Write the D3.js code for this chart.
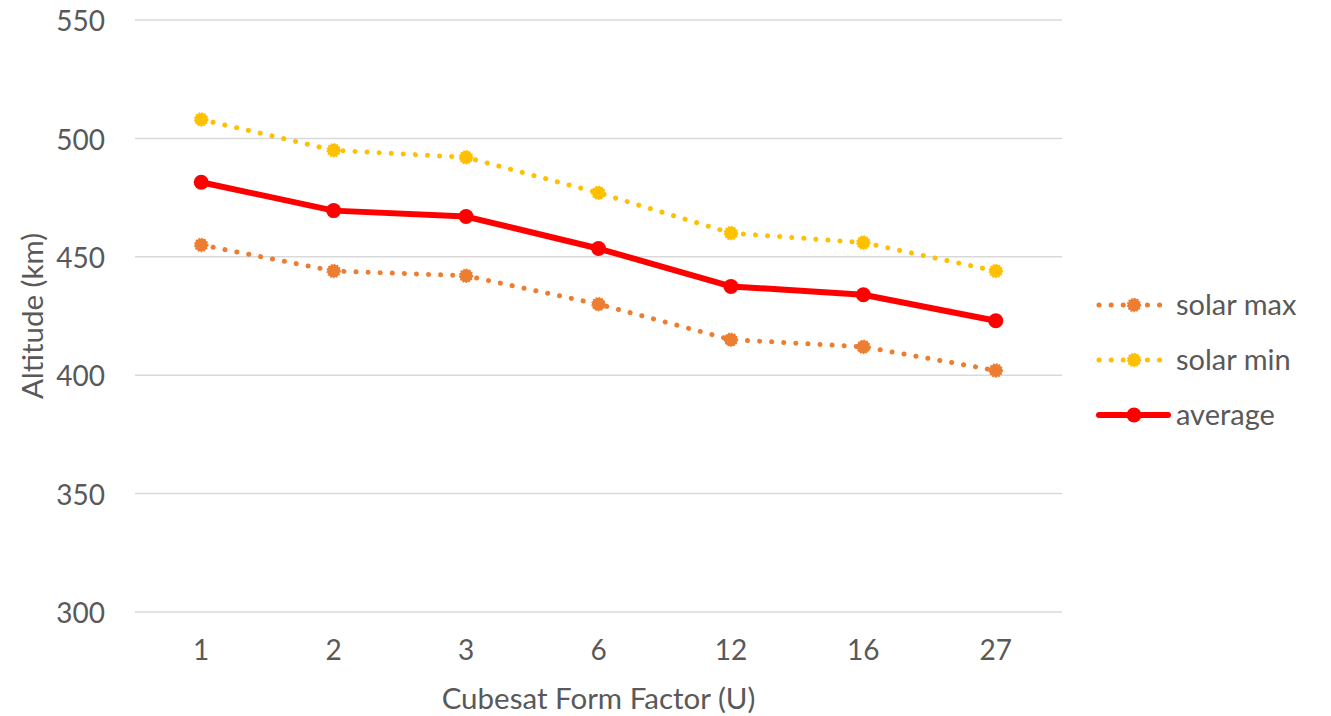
<!DOCTYPE html>
<html>
<head>
<meta charset="utf-8">
<script src="https://cdn.jsdelivr.net/npm/d3@7"></script>
<style>
  html, body { margin: 0; padding: 0; background: #fff; }
  svg { display: block; font-family: Lato, "Open Sans", sans-serif; }
</style>
</head>
<body>
<svg id="chart" width="1331" height="716"></svg>
<script>
// Cubesat form factors and the altitudes (km) for each solar condition
const formFactors = ["1", "2", "3", "6", "12", "16", "27"];
const solarMax = [455, 444, 442, 430, 415, 412, 402];
const solarMin = [508, 495, 492, 477, 460, 456, 444];
const average  = [481.5, 469.5, 467, 453.5, 437.5, 434, 423];
const yTicks = [300, 350, 400, 450, 500, 550];

const series = [
  { name: "solar max", values: solarMax, color: "#ED7D31", dotted: true },
  { name: "solar min", values: solarMin, color: "#FFC000", dotted: true },
  { name: "average",   values: average,  color: "#FF0000", dotted: false }
];

const svg = d3.select("#chart");
const plot = { left: 135, right: 1062, top: 20, bottom: 612 };

const x = d3.scaleBand().domain(formFactors).range([plot.left, plot.right]);
const y = d3.scaleLinear().domain([300, 550]).range([plot.bottom, plot.top]);
const cx = d => x(d) + x.bandwidth() / 2;

// horizontal gridlines
svg.append("g")
  .selectAll("line")
  .data(yTicks)
  .join("line")
  .attr("x1", plot.left).attr("x2", plot.right)
  .attr("y1", d => y(d)).attr("y2", d => y(d))
  .attr("stroke", "#d9d9d9").attr("stroke-width", 1.5);

// y tick labels
const yAxis = svg.append("g")
  .attr("transform", `translate(${plot.left},0)`)
  .call(d3.axisLeft(y).tickValues(yTicks).tickSize(0).tickPadding(30));
yAxis.select(".domain").remove();
yAxis.selectAll("text").attr("font-size", 28).attr("fill", "#595959")
  .attr("dy", "0.38em")
  .attr("font-family", "Lato, 'Open Sans', sans-serif");

// x tick labels
const xAxis = svg.append("g")
  .attr("transform", `translate(0,${plot.bottom})`)
  .call(d3.axisBottom(x).tickSize(0).tickPadding(28));
xAxis.select(".domain").remove();
xAxis.selectAll("text").attr("font-size", 28).attr("fill", "#595959")
  .attr("font-family", "Lato, 'Open Sans', sans-serif");

// axis titles
svg.append("text")
  .attr("x", (plot.left + plot.right) / 2 + 0).attr("y", 709)
  .attr("text-anchor", "middle")
  .attr("font-size", 29.5).attr("fill", "#595959")
  .text("Cubesat Form Factor (U)");

svg.append("text")
  .attr("transform", `translate(43,${(plot.top + plot.bottom) / 2}) rotate(-90)`)
  .attr("text-anchor", "middle")
  .attr("font-size", 29.5).attr("fill", "#595959")
  .text("Altitude (km)");

const line = d3.line().x((d, i) => cx(formFactors[i])).y(d => y(d));

function styleLine(sel, s) {
  sel.attr("fill", "none").attr("stroke", s.color)
    .attr("stroke-linecap", "round").attr("stroke-linejoin", "round");
  if (s.dotted) sel.attr("stroke-width", 5).attr("stroke-dasharray", "0.1 12");
  else sel.attr("stroke-width", 6);
}

series.forEach(s => {
  const g = svg.append("g");
  g.append("path").datum(s.values).attr("d", line).call(styleLine, s);
  g.selectAll("circle")
    .data(s.values)
    .join("circle")
    .attr("cx", (d, i) => cx(formFactors[i]))
    .attr("cy", d => y(d))
    .attr("r", s.dotted ? 6.5 : 7.5)
    .attr("fill", s.color)
    .attr("stroke", s.color)
    .attr("stroke-width", s.dotted ? 1.5 : 0)
    .attr("stroke-dasharray", s.dotted ? "1.5 1.5" : null);
});

// legend
const legend = svg.append("g");
series.forEach((s, i) => {
  const ly = 305 + i * 55;
  const g = legend.append("g");
  g.append("path")
    .attr("d", `M1099,${ly}L1168,${ly}`)
    .call(styleLine, s);
  g.append("circle")
    .attr("cx", 1134).attr("cy", ly)
    .attr("r", s.dotted ? 6.5 : 7.5)
    .attr("fill", s.color)
    .attr("stroke", s.color)
    .attr("stroke-width", s.dotted ? 1.5 : 0)
    .attr("stroke-dasharray", s.dotted ? "1.5 1.5" : null);
  g.append("text")
    .attr("x", 1176).attr("y", ly)
    .attr("dy", "0.36em")
    .attr("font-size", 29).attr("fill", "#595959")
    .text(s.name);
});
</script>
</body>
</html>
